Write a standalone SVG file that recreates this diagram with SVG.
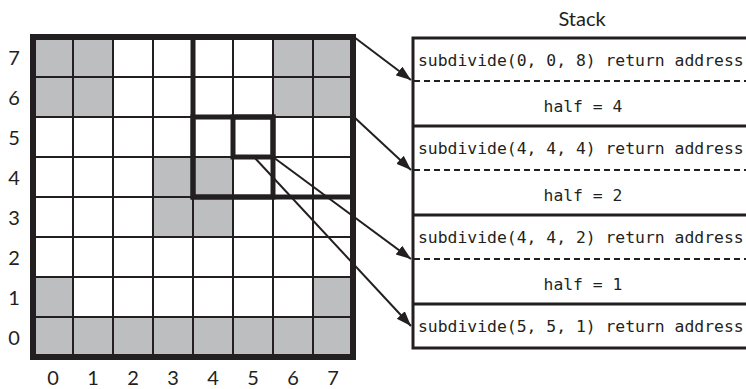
<svg xmlns="http://www.w3.org/2000/svg" width="746" height="389" viewBox="0 0 746 389">
<defs>
<style>
.lbl{font-family:"Lato","Liberation Sans",sans-serif;font-size:20px;fill:#231f20;text-anchor:middle}
.code{font-family:"DejaVu Sans Mono","Liberation Mono",monospace;font-size:16.4px;fill:#231f20}
.mid{text-anchor:middle}
.gray{fill:#bdbec0}
.thin{stroke:#231f20;stroke-width:2;fill:none}
.thick{stroke:#231f20;stroke-width:5;fill:none}
.outer{stroke:#231f20;stroke-width:6;fill:none}
.solid{stroke:#231f20;stroke-width:3;fill:none}
.dash{stroke:#231f20;stroke-width:2;stroke-dasharray:6 4;fill:none}
.conn{stroke:#231f20;stroke-width:2;fill:none}
</style>
<marker id="ah" markerUnits="userSpaceOnUse" markerWidth="16" markerHeight="12" refX="15" refY="5.5" orient="auto">
<path d="M0,0 L15,5.5 L0,11 z" fill="#231f20"/>
</marker>
</defs>
<rect width="746" height="389" fill="#ffffff"/>
<g id="grid">
<g id="cells">
<rect class="gray" x="33" y="37" width="80" height="80"/>
<rect class="gray" x="273" y="37" width="80" height="80"/>
<rect class="gray" x="153" y="157" width="80" height="80"/>
<rect class="gray" x="33" y="277" width="40" height="40"/>
<rect class="gray" x="313" y="277" width="40" height="40"/>
<rect class="gray" x="33" y="317" width="320" height="40"/>
</g>
<path class="thin" d="M73,37V357M113,37V357M153,37V357M193,37V357M233,37V357M273,37V357M313,37V357M33,77H353M33,117H353M33,157H353M33,197H353M33,237H353M33,277H353M33,317H353"/>
<rect class="thick" x="193" y="37" width="160" height="160"/>
<rect class="thick" x="193" y="117" width="80" height="80"/>
<rect class="thick" x="233" y="117" width="40" height="40"/>
<rect class="outer" x="33" y="37" width="320" height="320"/>
<g id="ylabels">
<text class="lbl" x="14" y="65">7</text>
<text class="lbl" x="14" y="105">6</text>
<text class="lbl" x="14" y="145">5</text>
<text class="lbl" x="14" y="185">4</text>
<text class="lbl" x="14" y="225">3</text>
<text class="lbl" x="14" y="265">2</text>
<text class="lbl" x="14" y="305">1</text>
<text class="lbl" x="14" y="345">0</text>
</g>
<g id="xlabels">
<text class="lbl" x="53" y="385">0</text>
<text class="lbl" x="93" y="385">1</text>
<text class="lbl" x="133" y="385">2</text>
<text class="lbl" x="173" y="385">3</text>
<text class="lbl" x="213" y="385">4</text>
<text class="lbl" x="253" y="385">5</text>
<text class="lbl" x="293" y="385">6</text>
<text class="lbl" x="333" y="385">7</text>
</g>
</g>
<g id="stack">
<text class="lbl" x="582" y="26">Stack</text>
<rect class="solid" x="413" y="38" width="340" height="310"/>
<g id="frame1">
<text class="code" x="418" y="66">subdivide(0, 0, 8) return address</text>
<line class="dash" x1="414" y1="81" x2="746" y2="81"/>
<text class="code mid" x="583" y="112">half = 4</text>
<line class="solid" x1="413" y1="126" x2="746" y2="126"/>
</g>
<g id="frame2">
<text class="code" x="418" y="154">subdivide(4, 4, 4) return address</text>
<line class="dash" x1="414" y1="170" x2="746" y2="170"/>
<text class="code mid" x="583" y="201">half = 2</text>
<line class="solid" x1="413" y1="215" x2="746" y2="215"/>
</g>
<g id="frame3">
<text class="code" x="418" y="243">subdivide(4, 4, 2) return address</text>
<line class="dash" x1="414" y1="259" x2="746" y2="259"/>
<text class="code mid" x="583" y="290">half = 1</text>
<line class="solid" x1="413" y1="304" x2="746" y2="304"/>
</g>
<g id="frame4">
<text class="code" x="418" y="332">subdivide(5, 5, 1) return address</text>
</g>
</g>
<g id="connectors">
<line class="conn" x1="354" y1="37" x2="411" y2="80" marker-end="url(#ah)"/>
<line class="conn" x1="354" y1="117" x2="411" y2="170" marker-end="url(#ah)"/>
<line class="conn" x1="273" y1="157" x2="411" y2="259" marker-end="url(#ah)"/>
<line class="conn" x1="254" y1="157" x2="411" y2="326" marker-end="url(#ah)"/>
</g>
</svg>
